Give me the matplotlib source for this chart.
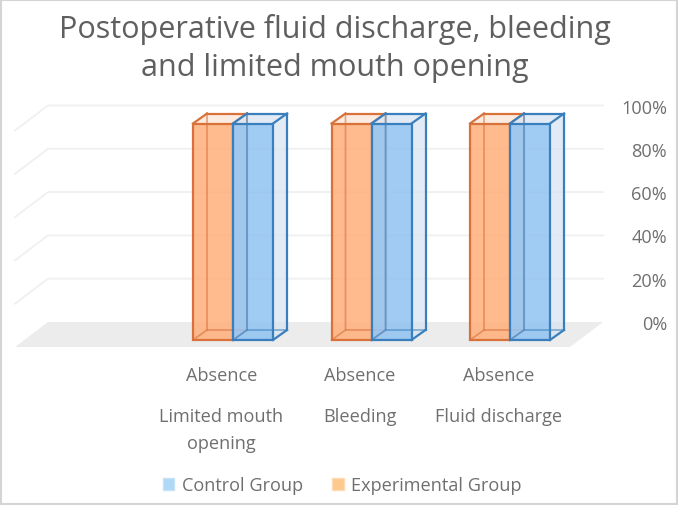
import matplotlib
matplotlib.use('Agg')
from matplotlib import pyplot as plt
from matplotlib.patches import Polygon, Patch, Rectangle

plt.rcParams['font.family'] = ['Open Sans', 'DejaVu Sans']

title = "Postoperative fluid discharge, bleeding\nand limited mouth opening"
outcome = ["Limited mouth\nopening", "Bleeding", "Fluid discharge"]
level = ["Absence", "Absence", "Absence"]
experimental = [100, 100, 100]
control = [100, 100, 100]
ticks = [0, 20, 40, 60, 80, 100]
tick_labels = ["0%", "20%", "40%", "60%", "80%", "100%"]

W, H = 678, 506
PX = 138.5        # px per category
PY = 2.165        # px per percent
X0, Y0 = 233, 341 # px of category 0, value 0 on bar front
FS = 13.1

def dx(px):
    return px / PX

def dy(px):
    return px / PY

text_col = '#6f6f6f'
orange_edge = '#d9713a'
blue_edge = '#3a7fbd'

fig = plt.figure(figsize=(W / 100, H / 100), dpi=100)
ax = fig.add_axes([0, 0, 1, 1])
ax.set_xlim(-X0 / PX, (W - X0) / PX)
ax.set_ylim((Y0 - H) / PY, Y0 / PY)
ax.axis('off')

# floor and back wall
fl = dy(-7)
bk = dy(18)
left = dx(15 - X0)
right = dx(570 - X0)
ax.add_patch(Polygon([(left, fl), (right, fl), (right + dx(33), bk), (left + dx(33), bk)],
                     fc='#ececec', ec='none', zorder=1))
for v in ticks[1:]:
    ax.plot([left, left + dx(33), right + dx(33)], [v + fl, v + bk, v + bk],
            color='#f0f0f0', lw=1.3, zorder=1)
for v, lab in zip(ticks, tick_labels):
    ax.text(dx(667 - X0), v + bk - dy(2), lab, ha='right', va='center', fontsize=FS, color=text_col)

def bar3d(x0, val, w, fill, edge, side, z):
    ddx, ddy = dx(14), dy(10)
    # back, side and top faces
    ax.add_patch(Polygon([(x0 + w, 0), (x0 + w + ddx, ddy), (x0 + w + ddx, val + ddy), (x0 + w, val)],
                         fc=side, ec='none', alpha=0.7, zorder=z))
    ax.add_patch(Polygon([(x0, val), (x0 + ddx, val + ddy), (x0 + w + ddx, val + ddy), (x0 + w, val)],
                         fc=side, ec='none', alpha=0.7, zorder=z))
    ax.bar(x0, val, w, align='edge', color=fill, alpha=0.85, lw=0, zorder=z + 0.1)
    # hidden edges show through the front face
    ax.plot([x0, x0 + ddx, x0 + ddx], [0, ddy, val + ddy], color=edge, lw=1.2, alpha=0.6, zorder=z + 0.2)
    ax.plot([x0 + ddx, x0 + w + ddx], [ddy, ddy], color=edge, lw=1.2, alpha=0.6, zorder=z + 0.2)
    ax.plot([x0 + ddx, x0 + w + ddx], [val + ddy, val + ddy], color=edge, lw=1.6, zorder=z + 0.2)
    ax.plot([x0 + w + ddx, x0 + w + ddx], [ddy, val + ddy], color=edge, lw=1.6, zorder=z + 0.2)
    ax.plot([x0 + w, x0 + w + ddx], [0, ddy], color=edge, lw=1.6, zorder=z + 0.2)
    ax.plot([x0, x0 + ddx], [val, val + ddy], color=edge, lw=1.6, zorder=z + 0.2)
    ax.plot([x0 + w, x0 + w + ddx], [val, val + ddy], color=edge, lw=1.6, zorder=z + 0.2)
    ax.bar(x0, val, w, align='edge', color='none', edgecolor=edge, lw=1.6, zorder=z + 0.3)

w = 40 / PX
for i in range(3):
    bar3d(i - w, experimental[i], w, '#ffae7a', orange_edge, '#fbe3d3', 3)
    bar3d(i, control[i], w, '#90c2f0', blue_edge, '#d7e3f1', 4)
    ax.text(i - dx(11.5), dy(341 - 376), level[i], ha='center', va='center', fontsize=FS, color=text_col)
    for j, part in enumerate(outcome[i].split('\n')):
        ax.text(i - dx(11.5), dy(341 - 417 - 27 * j), part, ha='center', va='center', fontsize=FS, color=text_col)

ax.text(dx(335 - X0), dy(341 - 48.5), title, ha='center', va='center', fontsize=22,
        color='#5f5f5f', linespacing=1.34)

handles = [Patch(fc='#aed8f5', ec='#c5e2f7', label='Control Group'),
           Patch(fc='#fdc98d', ec='#fddcb5', label='Experimental Group')]
fig.legend(handles=handles, loc='center', bbox_to_anchor=(342 / W, 1 - 486 / H), ncols=2, frameon=False,
           fontsize=FS, labelcolor=text_col, handlelength=0.65, handleheight=0.65, handletextpad=0.4,
           columnspacing=1.6)

# picture border
fig.add_artist(Rectangle((0, 0), 1, 1, transform=fig.transFigure, fc='none', ec='#d4d4d4', lw=3))

fig.savefig('out.png', dpi=100)
